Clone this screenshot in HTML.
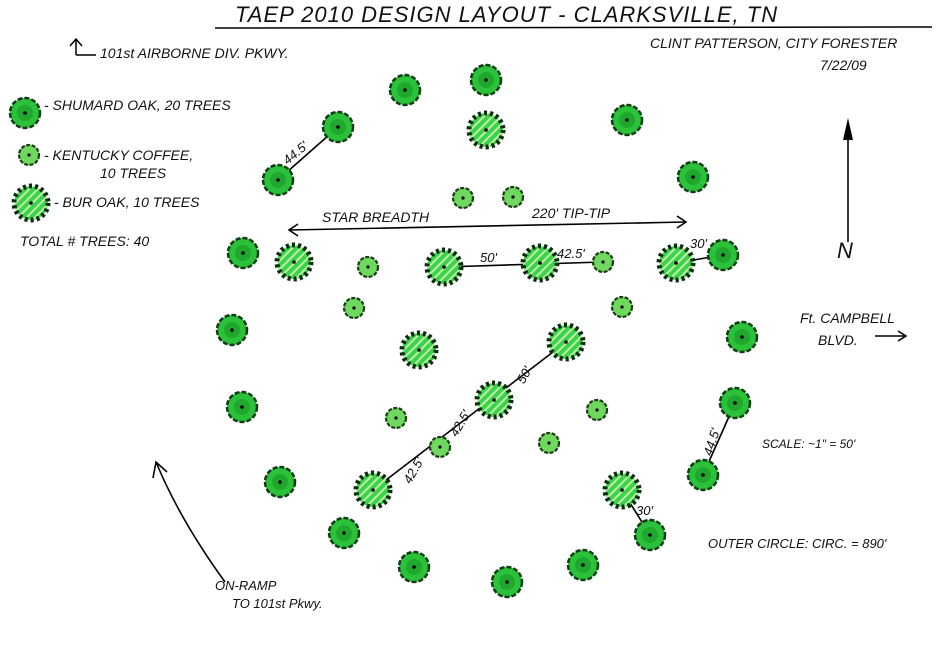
<!DOCTYPE html>
<html><head><meta charset="utf-8"><style>
body{margin:0;background:#fff;}
svg text{font-family:"Liberation Sans",sans-serif;font-style:italic;fill:#111;}
</style></head><body>
<svg width="938" height="660" viewBox="0 0 938 660" xmlns="http://www.w3.org/2000/svg">
<defs>
<pattern id="h" width="6" height="6" patternUnits="userSpaceOnUse" patternTransform="rotate(45)">
<rect width="6" height="6" fill="#3ed24a"/><rect width="2" height="6" fill="#b8f0a8"/></pattern>
<g id="s"><circle r="15" fill="#2bc13a" stroke="#0d3d12" stroke-width="2.5" stroke-dasharray="5 2"/><circle r="8" fill="#1fa82d"/><circle r="1.8" fill="#000"/></g>
<g id="k"><circle r="10" fill="#6fd85e" stroke="#1a3d12" stroke-width="2.2" stroke-dasharray="4 1.5"/><circle r="1.6" fill="#000"/></g>
<g id="b"><circle r="17" fill="url(#h)" stroke="#0d2a10" stroke-width="5" stroke-dasharray="3 3"/><circle r="14.5" fill="url(#h)"/><circle r="1.8" fill="#000"/></g>
</defs>
<text x="235" y="22" font-size="22" letter-spacing="1">TAEP 2010 DESIGN LAYOUT - CLARKSVILLE, TN</text>
<line x1="215" y1="28" x2="932" y2="27" stroke="#000" stroke-width="1.5"/>
<path d="M76 55 L76 40 M70 46 L76 39 L82 46 M76 55 L96 55" stroke="#000" fill="none" stroke-width="1.5"/>
<text x="100" y="58" font-size="14">101st AIRBORNE DIV. PKWY.</text>
<text x="650" y="48" font-size="14">CLINT PATTERSON, CITY FORESTER</text>
<text x="820" y="70" font-size="14">7/22/09</text>
<use href="#s" x="25" y="113"/><text x="44" y="110" font-size="14">- SHUMARD OAK, 20 TREES</text>
<use href="#k" x="29" y="155"/><text x="44" y="160" font-size="14">- KENTUCKY COFFEE,</text><text x="100" y="178" font-size="14">10 TREES</text>
<use href="#b" x="31" y="203"/><text x="54" y="207" font-size="14">- BUR OAK, 10 TREES</text>
<text x="20" y="246" font-size="14">TOTAL # TREES: 40</text>
<g stroke="#000" stroke-width="1.6" fill="none">
<line x1="278" y1="180" x2="338" y2="127"/>
<line x1="290" y1="230" x2="685" y2="222"/>
<path d="M298 224 L289 230 L298 236 M677 216 L686 222 L677 228"/>
<line x1="444" y1="267" x2="603" y2="262"/>
<line x1="676" y1="263" x2="723" y2="255"/>
<line x1="373" y1="490" x2="566" y2="342"/>
<line x1="703" y1="475" x2="735" y2="403"/>
<line x1="622" y1="490" x2="650" y2="535"/>
<line x1="848" y1="242" x2="848" y2="122"/>
<path d="M225 582 Q180 520 156 462 M153 478 L156 462 L167 472"/>
<path d="M875 336 L905 336 M898 331 L906 336 L898 341"/>
</g>
<path d="M848 118 L843 140 L853 140Z" fill="#000"/>
<text x="837" y="258" font-size="22" font-style="normal">N</text>
<text x="282" y="160" font-size="13" transform="rotate(-40 292 155)">44.5'</text>
<text x="322" y="222" font-size="14">STAR BREADTH</text>
<text x="532" y="218" font-size="14">220' TIP-TIP</text>
<text x="480" y="262" font-size="13">50'</text>
<text x="557" y="258" font-size="13">42.5'</text>
<text x="690" y="248" font-size="13">30'</text>
<text x="395" y="482" font-size="13" transform="rotate(-60 405 470)">42.5'</text>
<text x="445" y="433" font-size="13" transform="rotate(-60 455 425)">42.5'</text>
<text x="512" y="380" font-size="13" transform="rotate(-60 522 372)">50'</text>
<text x="698" y="452" font-size="13" transform="rotate(-72 708 445)">44.5'</text>
<text x="636" y="515" font-size="13">30'</text>
<text x="800" y="323" font-size="14">Ft. CAMPBELL</text>
<text x="818" y="345" font-size="14">BLVD.</text>
<text x="762" y="448" font-size="12">SCALE: ~1" = 50'</text>
<text x="708" y="548" font-size="13">OUTER CIRCLE: CIRC. = 890'</text>
<text x="215" y="590" font-size="13">ON-RAMP</text>
<text x="232" y="608" font-size="13">TO 101st Pkwy.</text>
<g>
<use href="#s" x="405" y="90"/><use href="#s" x="486" y="80"/><use href="#s" x="627" y="120"/><use href="#s" x="338" y="127"/><use href="#s" x="278" y="180"/><use href="#s" x="693" y="177"/><use href="#s" x="243" y="253"/><use href="#s" x="723" y="255"/><use href="#s" x="232" y="330"/><use href="#s" x="742" y="337"/><use href="#s" x="242" y="407"/><use href="#s" x="735" y="403"/><use href="#s" x="280" y="482"/><use href="#s" x="703" y="475"/><use href="#s" x="344" y="533"/><use href="#s" x="650" y="535"/><use href="#s" x="414" y="567"/><use href="#s" x="507" y="582"/><use href="#s" x="583" y="565"/>
<use href="#k" x="463" y="198"/><use href="#k" x="513" y="197"/><use href="#k" x="368" y="267"/><use href="#k" x="603" y="262"/><use href="#k" x="354" y="308"/><use href="#k" x="622" y="307"/><use href="#k" x="396" y="418"/><use href="#k" x="597" y="410"/><use href="#k" x="549" y="443"/><use href="#k" x="440" y="447"/>
<use href="#b" x="486" y="130"/><use href="#b" x="294" y="262"/><use href="#b" x="444" y="267"/><use href="#b" x="540" y="263"/><use href="#b" x="676" y="263"/><use href="#b" x="419" y="350"/><use href="#b" x="566" y="342"/><use href="#b" x="494" y="400"/><use href="#b" x="373" y="490"/><use href="#b" x="622" y="490"/>
</g>
</svg>
</body></html>
